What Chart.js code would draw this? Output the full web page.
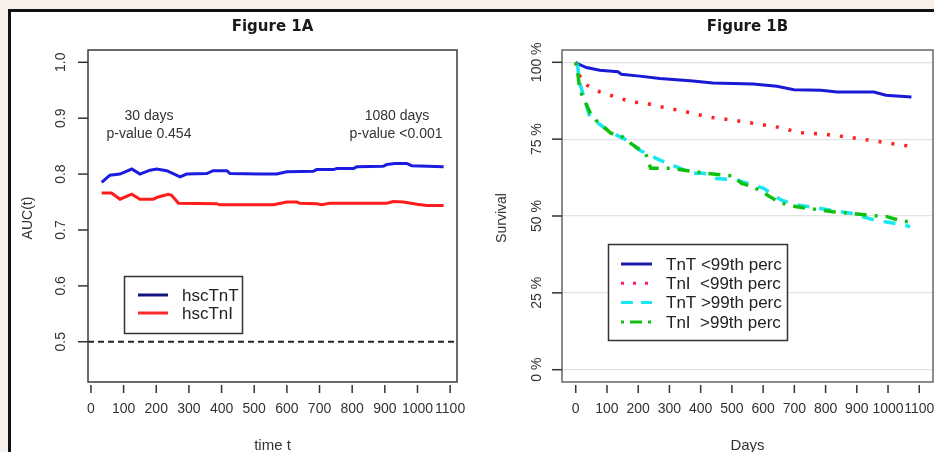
<!DOCTYPE html>
<html><head><meta charset="utf-8">
<script src="https://cdn.jsdelivr.net/npm/chart.js@4.4.1/dist/chart.umd.min.js"></script>
<style>
html,body{margin:0;padding:0;width:934px;height:452px;overflow:hidden;background:#f6efea;}
#frame{position:absolute;left:8px;top:9px;width:926px;height:443px;background:#fff;border-top:3px solid #111;border-left:3px solid #111;box-sizing:border-box;}
canvas{position:absolute;top:0;}
#cA{left:0}
#cB{left:467px}
</style></head><body>
<div id="frame"></div>
<canvas id="cA" width="467" height="452"></canvas>
<canvas id="cB" width="467" height="452"></canvas>
<script>
// ---------- Figure 1A data ----------
const aucTnTDays = [33, 58, 89, 125, 150, 181, 201, 232, 273, 293, 355, 374, 416, 426, 518, 569, 600, 681, 691, 742, 753, 804, 814, 895, 906, 931, 967, 982, 1080];
const aucTnTVals = [0.785, 0.798, 0.800, 0.809, 0.800, 0.807, 0.809, 0.806, 0.795, 0.800, 0.801, 0.806, 0.806, 0.801, 0.800, 0.800, 0.804, 0.805, 0.808, 0.808, 0.810, 0.810, 0.813, 0.814, 0.817, 0.819, 0.819, 0.815, 0.813];
const aucTnIDays = [33, 63, 89, 125, 150, 191, 206, 237, 247, 268, 385, 395, 559, 600, 630, 640, 691, 707, 732, 906, 926, 957, 998, 1029, 1080];
const aucTnIVals = [0.766, 0.766, 0.755, 0.764, 0.755, 0.755, 0.759, 0.764, 0.762, 0.748, 0.747, 0.745, 0.745, 0.750, 0.750, 0.748, 0.747, 0.745, 0.748, 0.748, 0.751, 0.750, 0.746, 0.744, 0.744];
const aucRefLine = 0.5;
const aucXTicks = [0, 100, 200, 300, 400, 500, 600, 700, 800, 900, 1000, 1100];
const aucXLabels = ["0", "100", "200", "300", "400", "500", "600", "700", "800", "900", "1000", "1100"];
const aucYTicks = [0.5, 0.6, 0.7, 0.8, 0.9, 1.0];
const aucYLabels = ["0.5", "0.6", "0.7", "0.8", "0.9", "1.0"];
const aucLegend = ["hscTnT", "hscTnI"];

// ---------- Figure 1B data ----------
const survTnTLowDays = [0, 5, 34, 77, 135, 146, 205, 269, 375, 439, 568, 644, 699, 785, 837, 955, 993, 1075];
const survTnTLowVals = [100, 99.6, 98.3, 97.4, 96.9, 96.1, 95.5, 94.7, 93.9, 93.3, 92.9, 92.2, 91.1, 90.9, 90.3, 90.3, 89.3, 88.7];
const survTnILowDays = [0, 10, 23, 77, 109, 179, 227, 263, 339, 381, 419, 461, 503, 548, 625, 667, 708, 795, 869, 923, 997, 1083];
const survTnILowVals = [100, 96.2, 93.2, 90.4, 89.3, 87.1, 86.6, 85.7, 84.2, 83.3, 82.3, 81.7, 81.2, 80.5, 79.3, 78.5, 77.2, 76.6, 75.7, 74.9, 73.8, 72.5];
const survTnTHighDays = [0, 6, 13, 29, 45, 87, 131, 163, 205, 269, 323, 375, 410, 451, 516, 602, 657, 708, 817, 881, 955, 1051, 1071];
const survTnTHighVals = [100, 99, 93.2, 87.7, 82.3, 79, 76.3, 74.7, 71.4, 68.2, 66, 63.9, 63.9, 62.2, 61.7, 59, 55.2, 53.6, 51.9, 50.9, 48.7, 47.1, 46.5];
const survTnIHighDays = [0, 6, 13, 47, 64, 113, 143, 176, 224, 240, 304, 420, 504, 531, 568, 622, 654, 708, 824, 933, 997, 1048, 1074];
const survTnIHighVals = [100, 97, 90.9, 83.4, 81.2, 76.9, 76.3, 73.6, 70.3, 65.5, 65.5, 63.9, 63, 60.6, 59.5, 56.3, 54.3, 53, 51.4, 50.3, 49.8, 48.2, 48.2];
const survXTicks = [0, 100, 200, 300, 400, 500, 600, 700, 800, 900, 1000, 1100];
const survXLabels = ["0", "100", "200", "300", "400", "500", "600", "700", "800", "900", "1000", "1100"];
const survYTicks = [0, 25, 50, 75, 100];
const survYLabels = ["0 %", "25 %", "50 %", "75 %", "100 %"];
const survLegend = ["TnT <99th perc", "TnI  <99th perc", "TnT >99th perc", "TnI  >99th perc"];

const FONT = '"Liberation Sans", Arial, sans-serif';
const pts = (d, v) => d.map((x, i) => ({x: x, y: v[i]}));

function decor(cfg) {
  return {
    id: 'decor',
    beforeDatasetsDraw(chart) {
      if (cfg.refLine === undefined) return;
      const {ctx, chartArea: a, scales: {y}} = chart;
      const py = y.getPixelForValue(cfg.refLine);
      ctx.save();
      ctx.strokeStyle = '#222'; ctx.lineWidth = 2; ctx.setLineDash([6, 4]);
      ctx.beginPath(); ctx.moveTo(a.left, py); ctx.lineTo(a.right, py); ctx.stroke();
      ctx.restore();
    },
    afterDraw(chart) {
      const {ctx, chartArea: a, scales: {x, y}} = chart;
      ctx.save();
      // box
      ctx.strokeStyle = cfg.boxColor; ctx.lineWidth = 1.5;
      ctx.strokeRect(a.left, a.top, a.right - a.left, a.bottom - a.top);
      // x ticks
      ctx.strokeStyle = '#333'; ctx.lineWidth = 1.5;
      ctx.fillStyle = '#333'; ctx.font = '14px ' + FONT;
      ctx.textAlign = 'center'; ctx.textBaseline = 'middle';
      cfg.xTicks.forEach((v, i) => {
        const px = x.getPixelForValue(v);
        ctx.beginPath(); ctx.moveTo(px, a.bottom + 3); ctx.lineTo(px, a.bottom + 11); ctx.stroke();
        ctx.fillText(cfg.xLabels[i], px, a.bottom + 27);
      });
      // y ticks
      cfg.yTicks.forEach((v, i) => {
        const py = y.getPixelForValue(v);
        ctx.beginPath(); ctx.moveTo(a.left - 10, py); ctx.lineTo(a.left, py); ctx.stroke();
        ctx.save(); ctx.translate(a.left - cfg.yLabelOff, py); ctx.rotate(-Math.PI / 2);
        ctx.fillText(cfg.yLabels[i], 0, 0); ctx.restore();
      });
      // axis titles
      ctx.fillStyle = '#333'; ctx.font = '15px ' + FONT;
      ctx.fillText(cfg.xTitle, (a.left + a.right) / 2, 446);
      ctx.save(); ctx.translate(cfg.yTitleX, (a.top + a.bottom) / 2 + 2); ctx.rotate(-Math.PI / 2);
      ctx.font = '14px ' + FONT; ctx.fillText(cfg.yTitle, 0, 0); ctx.restore();
      // main title
      ctx.fillStyle = '#1a1a1a'; ctx.font = 'bold 15px "DejaVu Sans", sans-serif';
      ctx.fillText(cfg.title, (a.left + a.right) / 2, 27);
      // annotations
      ctx.fillStyle = '#333'; ctx.font = '14px ' + FONT;
      (cfg.notes || []).forEach(n => ctx.fillText(n.t, n.x, n.y));
      // legend
      const L = cfg.legend;
      ctx.fillStyle = '#fff';
      ctx.fillRect(L.x, L.y, L.w, L.h);
      ctx.strokeStyle = '#333'; ctx.lineWidth = 1.5;
      ctx.strokeRect(L.x, L.y, L.w, L.h);
      ctx.textAlign = 'left'; ctx.font = L.font + 'px ' + FONT;
      L.items.forEach((it, i) => {
        const ry = L.rowY + i * L.rowH;
        ctx.strokeStyle = it.color; ctx.lineWidth = 3; ctx.setLineDash(it.dash || []);
        ctx.beginPath(); ctx.moveTo(L.lineX, ry); ctx.lineTo(L.lineX + L.lineW, ry); ctx.stroke();
        ctx.setLineDash([]);
        ctx.fillStyle = '#222'; ctx.fillText(it.label, L.textX, ry + 1);
      });
      ctx.restore();
    }
  };
}

function fixTicks(vals) { return s => { s.ticks = vals.map(v => ({value: v})); }; }

// ---------- Chart A ----------
new Chart(document.getElementById('cA'), {
  type: 'line',
  data: {
    datasets: [
      {label: aucLegend[0], data: pts(aucTnTDays, aucTnTVals), borderColor: '#1c1ce0', borderWidth: 3, pointRadius: 0, tension: 0},
      {label: aucLegend[1], data: pts(aucTnIDays, aucTnIVals), borderColor: '#ff1c1c', borderWidth: 3, pointRadius: 0, tension: 0}
    ]
  },
  options: {
    responsive: false, animation: false, devicePixelRatio: 1,
    layout: {padding: {top: 50, right: 10, left: 0, bottom: 0}},
    plugins: {legend: {display: false}, tooltip: {enabled: false}},
    scales: {
      x: {type: 'linear', min: -9, max: 1121, ticks: {display: false}, grid: {display: false}, border: {display: false},
          afterBuildTicks: fixTicks(aucXTicks), afterFit(s) { s.height = 70; }},
      y: {type: 'linear', min: 0.428, max: 1.022, ticks: {display: false}, grid: {display: false}, border: {display: false},
          afterBuildTicks: fixTicks(aucYTicks), afterFit(s) { s.width = 88; }}
    }
  },
  plugins: [decor({
    boxColor: '#3a3a3a', xTicks: aucXTicks, xLabels: aucXLabels, yTicks: aucYTicks, yLabels: aucYLabels,
    yLabelOff: 27, xTitle: 'time t', yTitle: 'AUC(t)', yTitleX: 28, title: 'Figure 1A', refLine: aucRefLine,
    notes: [{t: '30 days', x: 149, y: 116}, {t: 'p-value 0.454', x: 149, y: 134},
            {t: '1080 days', x: 397, y: 116}, {t: 'p-value <0.001', x: 396, y: 134}],
    legend: {x: 124.5, y: 276.5, w: 118, h: 57, rowY: 295, rowH: 18, lineX: 138, lineW: 30, textX: 182, font: 17,
      items: [{label: aucLegend[0], color: '#14147e'}, {label: aucLegend[1], color: '#ff2a2a'}]}
  })]
});

// ---------- Chart B ----------
new Chart(document.getElementById('cB'), {
  type: 'line',
  data: {
    datasets: [
      {label: survLegend[0], data: pts(survTnTLowDays, survTnTLowVals), borderColor: '#1a1ad6', borderWidth: 3, pointRadius: 0, tension: 0, order: 4},
      {label: survLegend[1], data: pts(survTnILowDays, survTnILowVals), borderColor: '#ff2020', borderWidth: 3.5, borderDash: [3, 10], borderCapStyle: 'butt', pointRadius: 0, tension: 0, order: 3},
      {label: survLegend[2], data: pts(survTnTHighDays, survTnTHighVals), borderColor: '#18e6f0', borderWidth: 3.5, borderDash: [12, 10], pointRadius: 0, tension: 0, order: 2},
      {label: survLegend[3], data: pts(survTnIHighDays, survTnIHighVals), borderColor: '#10c010', borderWidth: 3.5, borderDash: [3, 8, 12, 8], pointRadius: 0, tension: 0, order: 1}
    ]
  },
  options: {
    responsive: false, animation: false, devicePixelRatio: 1,
    layout: {padding: {top: 50, right: 1, left: 0, bottom: 0}},
    plugins: {legend: {display: false}, tooltip: {enabled: false}},
    scales: {
      x: {type: 'linear', min: -44, max: 1144, ticks: {display: false}, grid: {display: false}, border: {display: false},
          afterBuildTicks: fixTicks(survXTicks), afterFit(s) { s.height = 70; }},
      y: {type: 'linear', min: -4, max: 104, ticks: {display: false}, border: {display: false},
          grid: {display: true, drawTicks: false, color: '#e3e3e3', lineWidth: 1.2},
          afterBuildTicks: fixTicks(survYTicks), afterFit(s) { s.width = 95; }}
    }
  },
  plugins: [decor({
    boxColor: '#666', xTicks: survXTicks, xLabels: survXLabels, yTicks: survYTicks, yLabels: survYLabels,
    yLabelOff: 25, xTitle: 'Days', yTitle: 'Survival', yTitleX: 35, title: 'Figure 1B',
    legend: {x: 141.5, y: 244.5, w: 179, h: 96, rowY: 264, rowH: 19.3, lineX: 154, lineW: 31, textX: 199, font: 17,
      items: [{label: survLegend[0], color: '#1a1aa8'}, {label: survLegend[1], color: '#ff2060', dash: [3, 9]},
              {label: survLegend[2], color: '#18e6f0', dash: [12, 8]}, {label: survLegend[3], color: '#10c010', dash: [3, 6, 12, 6]}]}
  })]
});
</script>
</body></html>
